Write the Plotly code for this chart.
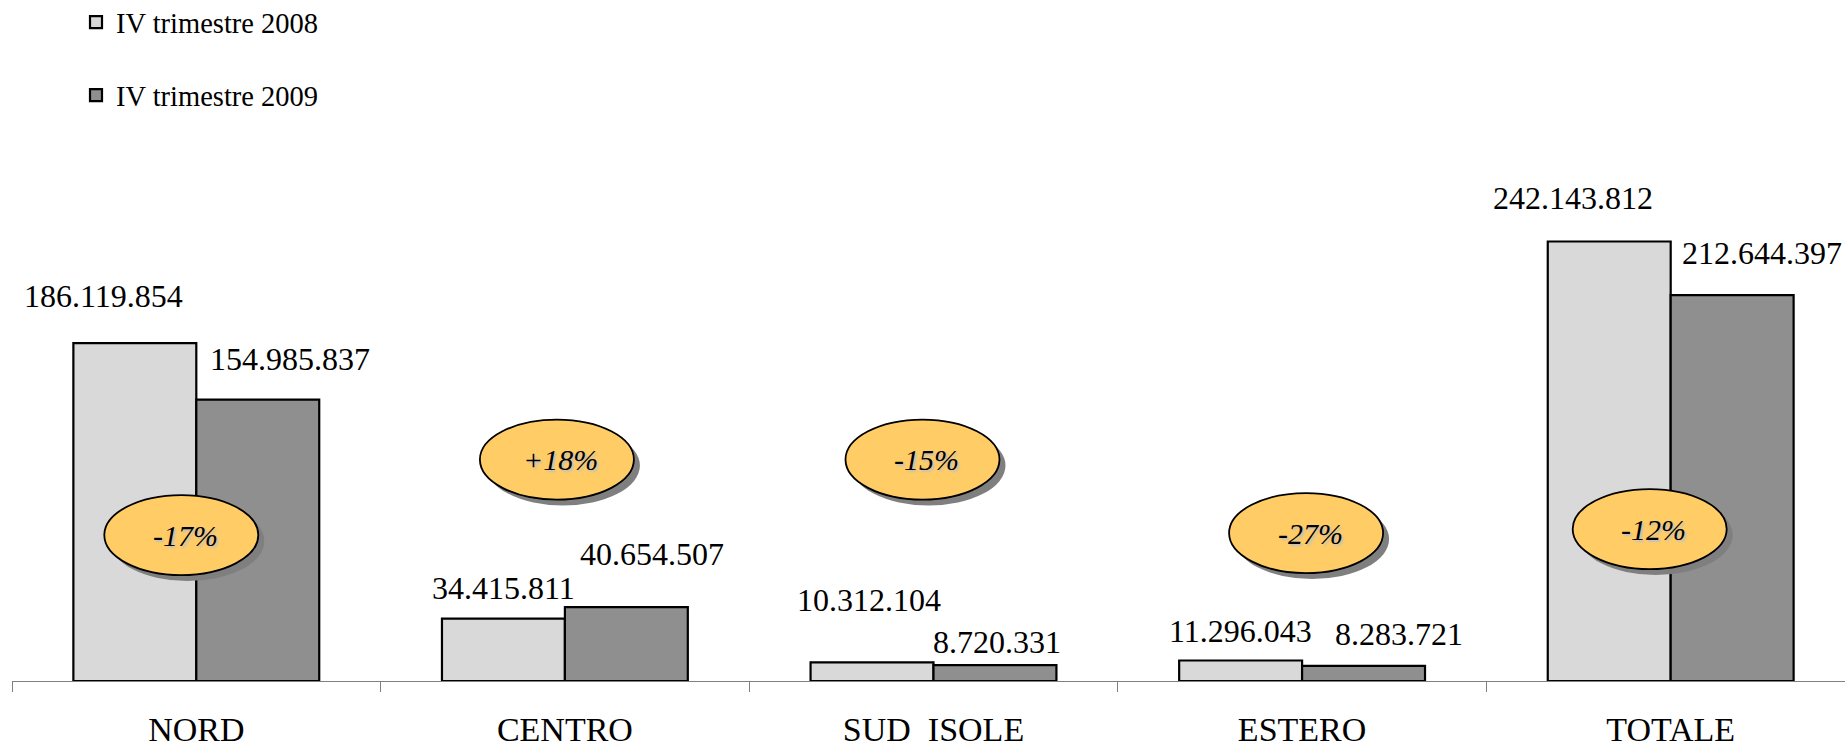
import plotly.graph_objects as go

# ---------------- data ----------------
categories = ["NORD", "CENTRO", "SUD  ISOLE", "ESTERO", "TOTALE"]
series_names = ["IV trimestre 2008", "IV trimestre 2009"]
values_2008 = [186119854, 34415811, 10312104, 11296043, 242143812]
values_2009 = [154985837, 40654507, 8720331, 8283721, 212644397]

# ---------------- styling / layout constants ----------------
FONT = "Liberation Serif, Times New Roman, serif"
COL_2008 = "#d9d9d9"
COL_2009 = "#8f8f8f"
ELLIPSE_FILL = "#ffcc66"
BARGAP = 0.333

# label pixel offsets (from bar top-centre) for the value labels
label_off_2008 = [(-31, 47), (0, 31), (-3, 62), (0, 30), (-36, 44)]
label_off_2009 = [(32, 41), (26, 53), (2, 23), (35, 32), (30, 42)]
# ellipse centres: pixel shift from category centre, and height on value axis
ellipse_dx = [-15, -8, -11, 4, -21]
ellipse_y = [80.4e6, 122.0e6, 122.0e6, 81.5e6, 83.7e6]


def fmt(v):
    return f"{v:,}".replace(",", ".")


fig = go.Figure()
for name, vals, col in [(series_names[0], values_2008, COL_2008),
                        (series_names[1], values_2009, COL_2009)]:
    fig.add_trace(go.Bar(
        x=categories, y=vals, name=name, legendgroup=name,
        marker=dict(color=col, line=dict(color="black", width=2.2)),
        hoverinfo="x+y",
    ))

half = (1 - BARGAP) / 4.0
annotations = []
shapes = []
for i, cat in enumerate(categories):
    for vals, offs, sign in [(values_2008, label_off_2008, -1), (values_2009, label_off_2009, 1)]:
        dx, dy = offs[i]
        annotations.append(dict(
            x=i + sign * half, y=vals[i], xref="x", yref="y",
            text=fmt(vals[i]), showarrow=False,
            xanchor="center", yanchor="middle",
            xshift=dx, yshift=dy,
            font=dict(family=FONT, size=32, color="black"),
        ))
    # percentage change ellipse
    pct = (values_2009[i] - values_2008[i]) / values_2008[i] * 100
    ptxt = f"{pct:+.0f}%"
    dx = ellipse_dx[i]
    # shadow
    shapes.append(dict(
        type="circle", xref="x", yref="y", xsizemode="pixel", ysizemode="pixel",
        xanchor=i, yanchor=ellipse_y[i],
        x0=dx - 77 + 6, x1=dx + 77 + 6, y0=-40 - 6, y1=40 - 6,
        fillcolor="#7f7f7f", line=dict(width=0), layer="above",
    ))
    shapes.append(dict(
        type="circle", xref="x", yref="y", xsizemode="pixel", ysizemode="pixel",
        xanchor=i, yanchor=ellipse_y[i],
        x0=dx - 77, x1=dx + 77, y0=-40, y1=40,
        fillcolor=ELLIPSE_FILL, line=dict(color="black", width=1.8), layer="above",
    ))
    annotations.append(dict(
        x=i, y=ellipse_y[i], xref="x", yref="y", text=f"<i>{ptxt}</i>",
        showarrow=False, xanchor="center", yanchor="middle", xshift=dx + 4,
        font=dict(family=FONT, size=30, color="black", shadow="2px 2px 2px #c0c0c0"),
    ))

PLOT_LEFT = 12
WIDTH, HEIGHT = 1845, 744
MT, MB = 100, 63
px_per_unit = 1.815e-6  # pixels per value unit
plot_h = HEIGHT - MT - MB
ymax = plot_h / px_per_unit

fig.update_layout(
    template="none",
    width=WIDTH, height=HEIGHT, autosize=False,
    margin=dict(l=PLOT_LEFT, r=0, t=MT, b=MB, pad=0, autoexpand=False),
    paper_bgcolor="white", plot_bgcolor="white",
    font=dict(family=FONT, color="black"),
    barmode="group", bargap=BARGAP, bargroupgap=0,
    showlegend=True,
    legend=dict(
        xref="paper", yref="paper",
        x=(76 - PLOT_LEFT) / (WIDTH - PLOT_LEFT), xanchor="left",
        y=1 + (MT + 3) / plot_h, yanchor="top",
        traceorder="grouped", tracegroupgap=33,
        font=dict(family=FONT, size=28.5, color="black"),
        bgcolor="rgba(0,0,0,0)", borderwidth=0,
    ),
    xaxis=dict(
        type="category", range=[-0.5, 4.4729], automargin=False,
        showline=True, linecolor="#808080", linewidth=1.2,
        ticks="outside", tickson="boundaries", ticklen=10, tickcolor="#808080", tickwidth=1.2,
        showgrid=False, zeroline=False,
        tickfont=dict(family=FONT, size=34, color="black"),
        ticklabelstandoff=18,
    ),
    yaxis=dict(
        range=[0, ymax], visible=False, showgrid=False, zeroline=False, automargin=False,
    ),
    shapes=shapes,
    annotations=annotations,
)

fig.write_html(
    "out.html",
    config={"displayModeBar": False},
    post_script="document.body.style.margin='0';document.body.style.overflow='hidden';",
)
